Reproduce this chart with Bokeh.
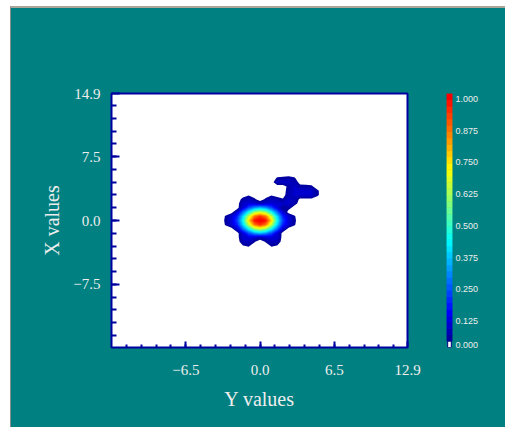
import numpy as np
from bokeh.plotting import figure
from bokeh.models import Range1d, FixedTicker, LinearAxis
from bokeh.layouts import row
from bokeh.embed import file_html
from bokeh.resources import INLINE

# ---------------- data ----------------
# sampled field (rows listed from top y=5.5 down to y=-3.5)
grid_x = [-3.5, -3.0, -2.5, -2.0, -1.5, -1.0, -0.5, 0.0, 0.5, 1.0,
          1.5, 2.0, 2.5, 3.0, 3.5, 4.0, 4.5, 5.0, 5.5]
grid_y_top_down = [5.5, 5.0, 4.5, 4.0, 3.5, 3.0, 2.5, 2.0, 1.5, 1.0,
                   0.5, 0.0, -0.5, -1.0, -1.5, -2.0, -2.5, -3.0, -3.5]
field_rows = [
    [0, 0, 0, 0, 0, 0, 0, 0, 0, 0, 0, 0, 0, 0, 0, 0, 0, 0, 0],
    [0, 0, 0, 0, 0, 0, 0, 0, 0, 0, .03, .035, .04, .03, 0, 0, 0, 0, 0],
    [0, 0, 0, 0, 0, 0, 0, 0, 0, 0, .07, .08, .08, .07, 0, 0, 0, 0, 0],
    [0, 0, 0, 0, 0, 0, 0, 0, 0, 0, 0, 0, .04, .08, .045, .04, .035, 0, 0],
    [0, 0, 0, 0, 0, 0, 0, 0, 0, 0, 0, 0, .05, .08, .08, .08, .08, .035, 0],
    [0, 0, 0, 0, 0, .02, 0, 0, 0, .02, 0, 0, .06, .08, .08, .08, .08, .035, 0],
    [0, 0, 0, 0, .04, .065, .035, 0, .035, .065, .05, .03, .08, .06, .015, .015, .015, 0, 0],
    [0, 0, 0, 0, .08, .10, .09, .06, .09, .10, .09, .08, .08, .05, 0, 0, 0, 0, 0],
    [0, 0, 0, 0, .10, .22, .30, .34, .30, .22, .11, .03, .05, 0, 0, 0, 0, 0, 0],
    [0, 0, 0, .09, .26, .42, .58, .64, .58, .42, .26, .09, 0, 0, 0, 0, 0, 0, 0],
    [0, .03, .09, .175, .38, .63, .85, .93, .85, .63, .38, .175, .09, .03, 0, 0, 0, 0, 0],
    [0, .035, .10, .21, .43, .74, .97, 1.0, .97, .74, .43, .21, .10, .035, 0, 0, 0, 0, 0],
    [0, .03, .09, .175, .38, .63, .85, .93, .85, .63, .38, .175, .09, .03, 0, 0, 0, 0, 0],
    [0, 0, 0, .09, .26, .42, .58, .64, .58, .42, .26, .09, 0, 0, 0, 0, 0, 0, 0],
    [0, 0, 0, 0, .10, .22, .30, .34, .30, .22, .10, 0, 0, 0, 0, 0, 0, 0, 0],
    [0, 0, 0, 0, .09, .10, .08, .05, .08, .10, .09, 0, 0, 0, 0, 0, 0, 0, 0],
    [0, 0, 0, 0, .06, .07, .03, 0, .03, .07, .06, 0, 0, 0, 0, 0, 0, 0, 0],
    [0, 0, 0, 0, .02, .03, 0, 0, 0, .03, .02, 0, 0, 0, 0, 0, 0, 0, 0],
    [0, 0, 0, 0, 0, 0, 0, 0, 0, 0, 0, 0, 0, 0, 0, 0, 0, 0, 0],
]

x_tick_values = [-6.5, 0.0, 6.5, 12.9]
x_tick_labels = ["\u22126.5", "0.0", "6.5", "12.9"]
y_tick_values = [-7.5, 0.0, 7.5, 14.9]
y_tick_labels = ["\u22127.5", "0.0", "7.5", "14.9"]
x_minor_step = 1.3
y_minor_step = 1.5

cbar_values = [1.0, 0.875, 0.75, 0.625, 0.5, 0.375, 0.25, 0.125, 0.0]
cbar_labels = ["1.000", "0.875", "0.750", "0.625", "0.500", "0.375", "0.250", "0.125", "0.000"]
n_levels = 40

# ---------------- styles ----------------
TEAL = "#008080"
FRAME = "#0000a0"
TXT = "#eeeeee"
SERIF = "Liberation Serif"


def jet(m):
    s = 0.89 * m
    r = np.clip(1.5 - abs(4 * s - 3), 0, 1)
    g = np.clip(1.5 - abs(4 * s - 2), 0, 1)
    b = np.clip(1.5 - abs(4 * s - 1), 0, 1)
    return "#%02x%02x%02x" % (int(r * 255), int(g * 255), int(b * 255))


levels = list(np.linspace(1.0 / n_levels, 1.0, n_levels))
levels[-1] = 1.001
band_colors = [jet((levels[i] + levels[i + 1]) / 2) for i in range(len(levels) - 1)]

# ---------------- main plot ----------------
p = figure(width=424, height=419, x_range=Range1d(-13.0, 12.9), y_range=Range1d(-14.9, 14.9),
           output_backend="svg", toolbar_location=None,
           min_border_left=100, min_border_right=28, min_border_top=85, min_border_bottom=80,
           border_fill_color=TEAL, background_fill_color="white",
           outline_line_color=FRAME, outline_line_width=2)
p.grid.visible = False

Z = np.array(field_rows[::-1], dtype=float)
gx = np.array(grid_x, dtype=float)
gy = np.array(grid_y_top_down[::-1], dtype=float)
# stacked regions (each level region covers the ones above it): no seams
for lo, col in zip(levels[:-1], band_colors):
    if Z.max() > lo:
        p.contour(gx, gy, Z, [lo, 2.0], fill_color=col, line_color=None)

x_minor = [round(x_minor_step * k, 2) for k in range(-9, 10)]
y_minor = [round(y_minor_step * k, 2) for k in range(-9, 10)]

p.xaxis.ticker = FixedTicker(ticks=x_tick_values, minor_ticks=x_minor)
p.yaxis.ticker = FixedTicker(ticks=y_tick_values, minor_ticks=y_minor)
p.xaxis.major_label_overrides = {float(v): l for v, l in zip(x_tick_values, x_tick_labels)}
p.yaxis.major_label_overrides = {float(v): l for v, l in zip(y_tick_values, y_tick_labels)}
p.xaxis.axis_label = "Y values"
p.yaxis.axis_label = "X values"

for ax in (p.xaxis[0], p.yaxis[0]):
    ax.axis_line_color = None
    ax.major_tick_out = 0
    ax.minor_tick_out = 0
    ax.major_tick_line_color = FRAME
    ax.minor_tick_line_color = FRAME
    ax.major_tick_line_width = 2
    ax.minor_tick_line_width = 2
    ax.major_label_text_font = SERIF
    ax.major_label_text_font_size = "15px"
    ax.major_label_text_color = TXT
    ax.axis_label_text_font = SERIF
    ax.axis_label_text_font_size = "20px"
    ax.axis_label_text_font_style = "normal"
    ax.axis_label_text_color = TXT

p.yaxis.major_tick_in = 8
p.yaxis.minor_tick_in = 5
p.yaxis.major_label_standoff = 11
p.yaxis.axis_label_standoff = 7
p.xaxis.major_tick_in = 6
p.xaxis.minor_tick_in = 3
p.xaxis.major_label_standoff = 17
p.xaxis.axis_label_standoff = 10

# ---------------- colour bar ----------------
shift = 7.0 / 337.0
cb = figure(width=70, height=419, x_range=Range1d(0, 1), y_range=Range1d(0, 1),
            output_backend="svg", toolbar_location=None,
            x_axis_type=None, y_axis_type=None,
            min_border_left=11, min_border_right=53, min_border_top=42, min_border_bottom=40,
            border_fill_color=TEAL, background_fill_color=TEAL, outline_line_color=None)
cb.grid.visible = False
cb_bottoms = [0.0] + levels[:-1]
cb_tops = [levels[0]] + [min(v, 1.0) for v in levels[1:]]
cb.quad(left=0, right=1, bottom=cb_bottoms[1:], top=cb_tops[1:], fill_color=band_colors,
        line_color=band_colors, line_width=0.5)
cb.quad(left=0.2, right=0.8, bottom=cb_bottoms[0], top=cb_tops[0], fill_color="white",
        line_color="#000080", line_width=1)

cb.extra_y_ranges = {"lab": Range1d(shift, 1.0 + shift)}
lab_pos = [max(v, shift + 0.011) for v in cbar_values]
lab_axis = LinearAxis(y_range_name="lab", ticker=FixedTicker(ticks=lab_pos))
lab_axis.major_label_overrides = {float(v): l for v, l in zip(lab_pos, cbar_labels)}
lab_axis.axis_line_color = None
lab_axis.major_tick_line_color = None
lab_axis.minor_tick_line_color = None
lab_axis.major_tick_out = 0
lab_axis.minor_tick_out = 0
lab_axis.major_tick_in = 0
lab_axis.major_label_standoff = 3
lab_axis.major_label_text_font = "Liberation Sans"
lab_axis.major_label_text_font_size = "9px"
lab_axis.major_label_text_color = TXT
cb.add_layout(lab_axis, "right")

layout = row(p, cb)
layout.margin = (6, 0, 0, 10)
layout.styles = {"background-color": TEAL, "border-top": "2px solid #aaa69a",
                 "border-left": "1px solid #8c8c8c"}

open("out.html", "w").write(file_html(layout, INLINE))
